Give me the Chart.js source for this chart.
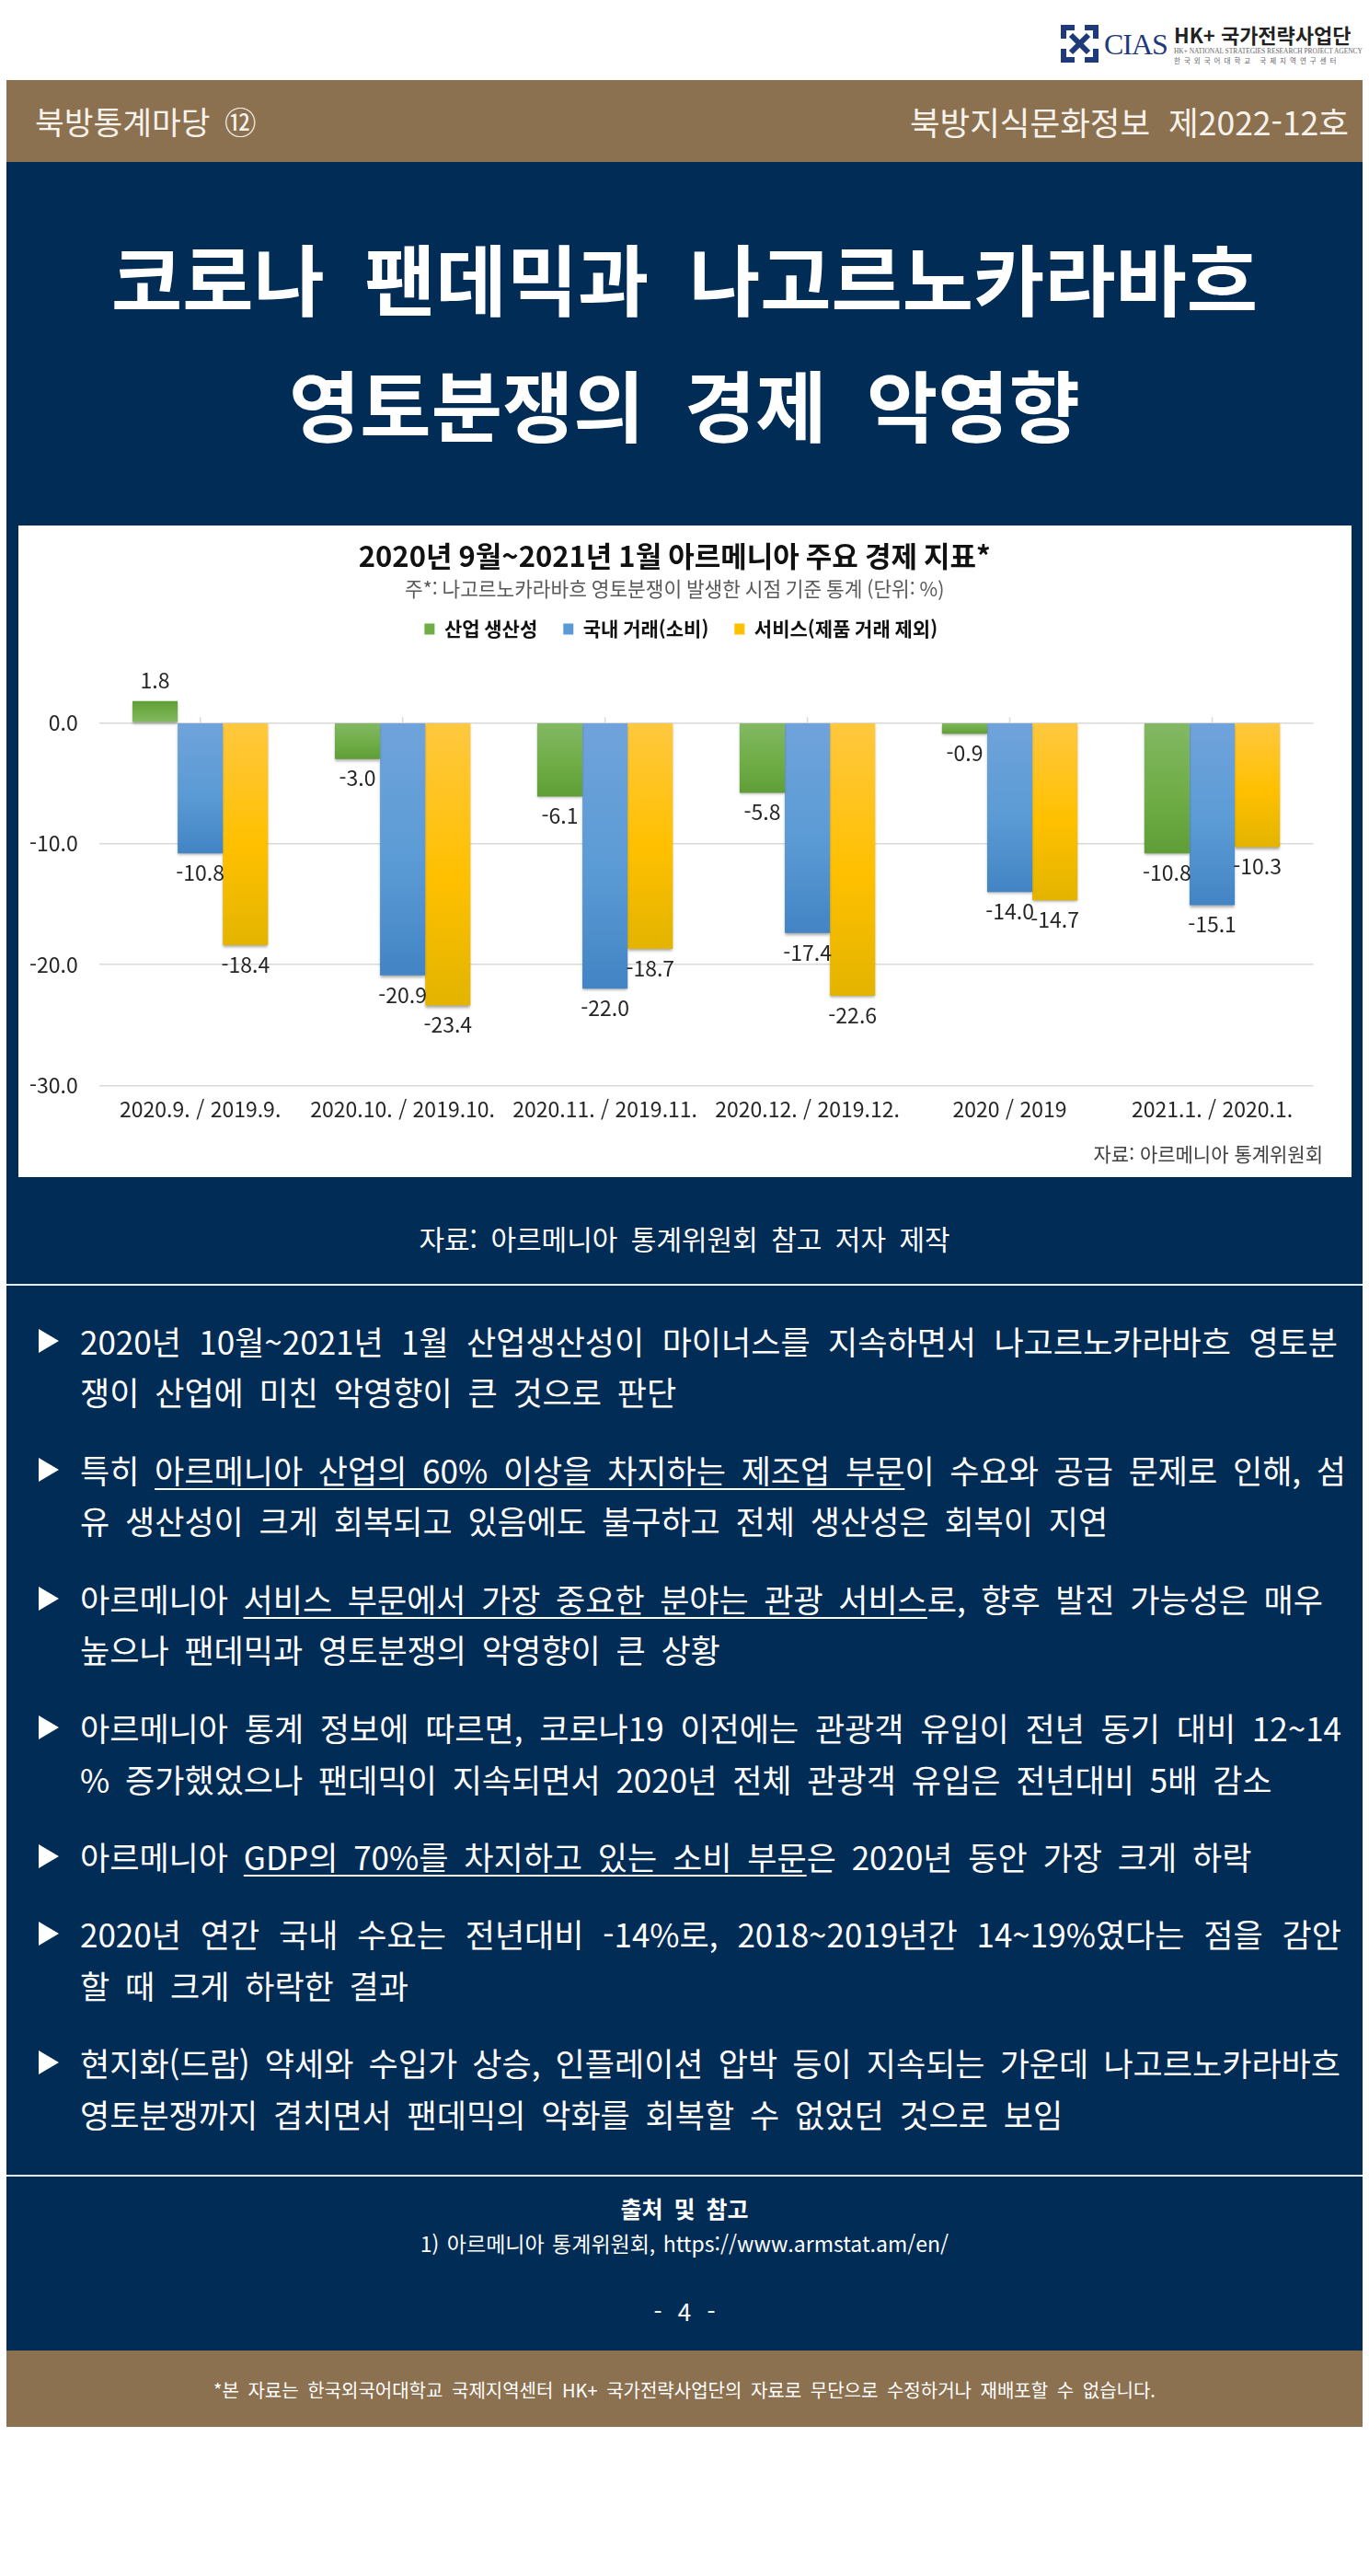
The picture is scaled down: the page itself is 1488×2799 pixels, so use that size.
<!DOCTYPE html>
<html lang="ko">
<head>
<meta charset="utf-8">
<title>코로나 팬데믹과 나고르노카라바흐 영토분쟁의 경제 악영향</title>
<script src="https://cdn.jsdelivr.net/npm/chart.js@4"></script>
<style>
  html, body { margin: 0; padding: 0; background: #fff; }
  body { position: relative; width: 1488px; height: 2799px; overflow: hidden; font-family: "Noto Sans CJK KR", sans-serif; color: #fff; }
  .band { position: absolute; left: 7px; width: 1474px; }
  .brown { background: #8c7150; }
  .navy { background: #002c55; }
  .rule { position: absolute; left: 7px; width: 1474px; height: 1.5px; background: #e8edf2; }
  .t { position: absolute; white-space: nowrap; transform: translateY(-50%); line-height: 1.2; }
  .c { left: 7px; width: 1474px; text-align: center; }
  .line { position: absolute; left: 87px; white-space: nowrap; transform: translateY(-50%); font-size: 35px; line-height: 1.2; word-spacing: 7px; }
  .just { white-space: normal; word-spacing: 0; text-align: justify; text-align-last: justify; }
  .line u { text-decoration-thickness: 1.5px; text-underline-offset: 5px; }
  .tri { position: absolute; left: 42px; width: 0; height: 0; transform: translateY(-50%); border-left: 22px solid #fff; border-top: 13px solid transparent; border-bottom: 13px solid transparent; }
  #panel { position: absolute; left: 20px; top: 571px; width: 1449px; height: 708px; background: #fff; }
  #source { position: absolute; right: 31px; top: 682px; transform: translateY(-50%); font-size: 21px; color: #404040; white-space: nowrap; }
</style>
</head>
<body>

<svg style="position:absolute;left:1153px;top:27px" width="41" height="41" viewBox="0 0 41 41">
  <g fill="none" stroke="#1f3a7a" stroke-width="6">
    <path d="M15 3H3V15M26 3H38V15M3 26V38H15M38 26V38H26"/>
    <path d="M11 11L30 30M30 11L11 30"/>
  </g>
</svg>
<div class="t" style="left:1200px;top:48px;font:32px 'Liberation Serif';color:#1f3a7a;letter-spacing:-1px">CIAS</div>
<div class="t" style="left:1276px;top:37px;font-size:22px;font-weight:700;color:#222">HK+ 국가전략사업단</div>
<div class="t" style="left:1276px;top:55px;font:7.4px 'Liberation Serif';color:#666">HK+ NATIONAL STRATEGIES RESEARCH PROJECT AGENCY</div>
<div class="t" style="left:1276px;top:65px;font-size:7.5px;color:#666;letter-spacing:4px">한국외국어대학교 국제지역연구센터</div>

<div class="band brown" style="top:87px;height:89px"></div>
<div class="t" style="left:38px;top:132px;font-size:34.5px;color:#f7f3ec;word-spacing:6px">북방통계마당 ⑫</div>
<div class="t" style="right:22px;top:132px;font-size:35.5px;color:#f7f3ec;word-spacing:10px">북방지식문화정보 제2022-12호</div>

<div class="band navy" style="top:176px;height:2378px"></div>
<div class="t c" style="top:301px;font-size:84px;font-weight:700;word-spacing:20px">코로나 팬데믹과 나고르노카라바흐</div>
<div class="t c" style="top:438px;font-size:84px;font-weight:700;word-spacing:20px">영토분쟁의 경제 악영향</div>

<div id="panel">
  <canvas id="chart" width="1449" height="708"></canvas>
  <div id="source">자료: 아르메니아 통계위원회</div>
</div>

<div class="t c" style="top:1345px;font-size:30px;word-spacing:6px">자료: 아르메니아 통계위원회 참고 저자 제작</div>
<div class="rule" style="top:1395px"></div>

<div class="tri" style="top:1457px"></div>
<div class="line just" style="top:1457px;width:1367px">2020년 10월~2021년 1월 산업생산성이 마이너스를 지속하면서 나고르노카라바흐 영토분</div>
<div class="line" style="top:1512px">쟁이 산업에 미친 악영향이 큰 것으로 판단</div>

<div class="tri" style="top:1597px"></div>
<div class="line just" style="top:1597px;width:1376px">특히 <u>아르메니아 산업의 60% 이상을 차지하는 제조업 부문</u>이 수요와 공급 문제로 인해, 섬</div>
<div class="line" style="top:1652px">유 생산성이 크게 회복되고 있음에도 불구하고 전체 생산성은 회복이 지연</div>

<div class="tri" style="top:1737px"></div>
<div class="line just" style="top:1737px;width:1351px">아르메니아 <u>서비스 부문에서 가장 중요한 분야는 관광 서비스</u>로, 향후 발전 가능성은 매우</div>
<div class="line" style="top:1792px">높으나 팬데믹과 영토분쟁의 악영향이 큰 상황</div>

<div class="tri" style="top:1877px"></div>
<div class="line just" style="top:1877px;width:1371px">아르메니아 통계 정보에 따르면, 코로나19 이전에는 관광객 유입이 전년 동기 대비 12~14</div>
<div class="line" style="top:1933px">% 증가했었으나 팬데믹이 지속되면서 2020년 전체 관광객 유입은 전년대비 5배 감소</div>

<div class="tri" style="top:2017px"></div>
<div class="line" style="top:2017px">아르메니아 <u>GDP의 70%를 차지하고 있는 소비 부문</u>은 2020년 동안 가장 크게 하락</div>

<div class="tri" style="top:2101px"></div>
<div class="line just" style="top:2101px;width:1371px">2020년 연간 국내 수요는 전년대비 -14%로, 2018~2019년간 14~19%였다는 점을 감안</div>
<div class="line" style="top:2157px">할 때 크게 하락한 결과</div>

<div class="tri" style="top:2241px"></div>
<div class="line just" style="top:2241px;width:1370px">현지화(드람) 약세와 수입가 상승, 인플레이션 압박 등이 지속되는 가운데 나고르노카라바흐</div>
<div class="line" style="top:2297px">영토분쟁까지 겹치면서 팬데믹의 악화를 회복할 수 없었던 것으로 보임</div>

<div class="rule" style="top:2363px"></div>
<div class="t c" style="top:2399px;font-size:25px;font-weight:700;word-spacing:5px">출처 및 참고</div>
<div class="t c" style="top:2438px;font-size:23px;word-spacing:2px">1) 아르메니아 통계위원회, https://www.armstat.am/en/</div>
<div class="t c" style="top:2511px;font-size:26px;word-spacing:10px">- 4 -</div>

<div class="band brown" style="top:2554px;height:83px"></div>
<div class="t c" style="top:2597px;font-size:20px;word-spacing:4px">*본 자료는 한국외국어대학교 국제지역센터 HK+ 국가전략사업단의 자료로 무단으로 수정하거나 재배포할 수 없습니다.</div>

<script>
const categories = ['2020.9. / 2019.9.', '2020.10. / 2019.10.', '2020.11. / 2019.11.', '2020.12. / 2019.12.', '2020 / 2019', '2021.1. / 2020.1.'];
const industry = [1.8, -3.0, -6.1, -5.8, -0.9, -10.8];
const domestic = [-10.8, -20.9, -22.0, -17.4, -14.0, -15.1];
const services = [-18.4, -23.4, -18.7, -22.6, -14.7, -10.3];
const yTicks = [0, -10, -20, -30];

const fontFamily = '"Noto Sans CJK KR", sans-serif';
Chart.defaults.font.family = fontFamily;
Chart.defaults.animation = false;

// office style fill: lighter at the axis, darker at the end of the bar
const barFill = (stops) => (ctx) => {
    if (ctx.type !== 'data') return stops[1];
    const y = ctx.chart.scales.y;
    const from = y.getPixelForValue(0);
    const to = y.getPixelForValue(ctx.raw);
    if (!isFinite(from) || !isFinite(to)) return stops[1];
    const g = ctx.chart.ctx.createLinearGradient(0, from, 0, to);
    g.addColorStop(0, stops[0]);
    g.addColorStop(0.55, stops[1]);
    g.addColorStop(1, stops[2]);
    return g;
};

// title block sits a bit right of where the layout puts it
const nudgeHeader = {
    id: 'nudgeHeader',
    afterLayout(chart) {
        chart.boxes.filter((b) => b.fullSize && b.isHorizontal()).forEach((b) => {
            const dx = b === chart.legend ? 11 : 4;
            b.left += dx;
            b.right += dx;
        });
    },
};

const barShadow = {
    id: 'barShadow',
    beforeDatasetsDraw(chart) {
        const c = chart.ctx;
        c.save();
        c.shadowColor = 'rgba(0,0,0,0.35)';
        c.shadowBlur = 3;
        c.shadowOffsetY = 2;
    },
    afterDatasetsDraw(chart) {
        chart.ctx.restore();
    },
};

const zeroTicks = {
    id: 'zeroTicks',
    beforeDatasetsDraw(chart) {
        const c = chart.ctx;
        const zero = chart.scales.y.getPixelForValue(0);
        c.save();
        c.strokeStyle = '#d9d9d9';
        c.lineWidth = 1.5;
        chart.scales.x.ticks.forEach((t, i) => {
            const x = chart.scales.x.getPixelForTick(i);
            c.beginPath();
            c.moveTo(x, zero);
            c.lineTo(x, zero - 6);
            c.stroke();
        });
        c.restore();
    },
};

const valueLabels = {
    id: 'valueLabels',
    afterDatasetsDraw(chart) {
        const c = chart.ctx;
        c.save();
        c.font = '23px ' + fontFamily;
        c.fillStyle = '#262626';
        c.textAlign = 'center';
        c.textBaseline = 'middle';
        chart.data.datasets.forEach((ds, i) => {
            chart.getDatasetMeta(i).data.forEach((bar, j) => {
                const v = ds.data[j];
                c.fillText(v.toFixed(1), bar.x, bar.y + (v < 0 ? 21 : -22));
            });
        });
        c.restore();
    },
};

new Chart(document.getElementById('chart'), {
    type: 'bar',
    data: {
        labels: categories,
        datasets: [
            { label: '산업 생산성', data: industry, backgroundColor: barFill(['#82b863', '#70ad47', '#5f9e36']) },
            { label: '국내 거래(소비)', data: domestic, backgroundColor: barFill(['#70a3db', '#5b9bd5', '#4284c4']) },
            { label: '서비스(제품 거래 제외)', data: services, backgroundColor: barFill(['#ffc83f', '#ffc000', '#e3b400']) },
        ],
    },
    plugins: [nudgeHeader, zeroTicks, barShadow, valueLabels],
    options: {
        responsive: false,
        layout: { padding: { left: 11, right: 41.5, top: 0, bottom: 0 } },
        datasets: { bar: { barPercentage: 1, categoryPercentage: 0.67 } },
        plugins: {
            title: {
                display: true,
                text: '2020년 9월~2021년 1월 아르메니아 주요 경제 지표*',
                color: '#111',
                font: { size: 31, weight: '700' },
                padding: { top: 15, bottom: 2 },
            },
            subtitle: {
                display: true,
                text: '주*: 나고르노카라바흐 영토분쟁이 발생한 시점 기준 통계 (단위: %)',
                color: '#595959',
                font: { size: 21.4 },
                padding: { top: 2, bottom: -8 },
            },
            legend: {
                labels: {
                    boxWidth: 11,
                    boxHeight: 12,
                    padding: 28,
                    color: '#111',
                    font: { size: 21, weight: '700' },
                    generateLabels(chart) {
                        return Chart.defaults.plugins.legend.labels.generateLabels(chart).map((item, i) => ({
                            ...item,
                            fillStyle: ['#70ad47', '#5b9bd5', '#ffc000'][i],
                            lineWidth: 0,
                        }));
                    },
                },
            },
            tooltip: { enabled: false },
        },
        scales: {
            x: {
                grid: { display: false },
                border: { display: false },
                afterFit: (s) => { s.height = 99.7; },
                ticks: { color: '#262626', padding: 4, font: { size: 23 }, maxRotation: 0, autoSkip: false },
            },
            y: {
                min: -30,
                max: 6.2,
                afterFit: (s) => { s.width = 76.7; },
                afterBuildTicks: (s) => { s.ticks = yTicks.map((value) => ({ value })); },
                grid: { color: '#d9d9d9', lineWidth: 1.5, drawTicks: false },
                border: { display: false },
                ticks: { color: '#262626', padding: 23, font: { size: 23 }, callback: (v) => v.toFixed(1) },
            },
        },
    },
});
</script>
</body>
</html>
